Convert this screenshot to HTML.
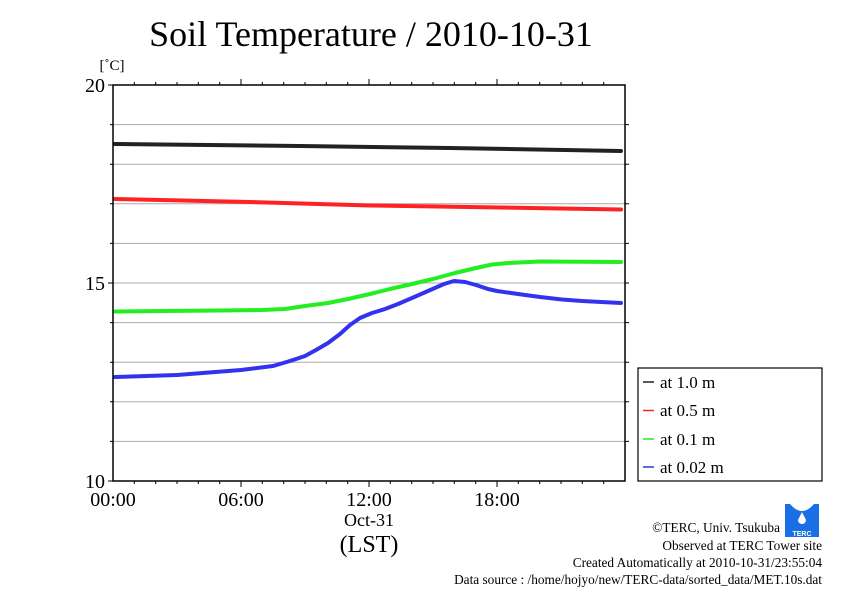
<!DOCTYPE html>
<html><head><meta charset="utf-8"><style>body{margin:0;background:#fff}svg{display:block}</style></head><body>
<svg width="842" height="595" viewBox="0 0 842 595" font-family="Liberation Serif, serif">
<rect width="842" height="595" fill="#fff"/>
<text x="371" y="46" font-size="36" text-anchor="middle">Soil Temperature / 2010-10-31</text>
<text x="112" y="70" font-size="15" text-anchor="middle">[˚C]</text>
<g stroke="#aaa" stroke-width="1">
<line x1="113" x2="625" y1="124.6" y2="124.6"/><line x1="113" x2="625" y1="164.2" y2="164.2"/>
<line x1="113" x2="625" y1="203.8" y2="203.8"/><line x1="113" x2="625" y1="243.4" y2="243.4"/>
<line x1="113" x2="625" y1="283" y2="283"/><line x1="113" x2="625" y1="322.6" y2="322.6"/>
<line x1="113" x2="625" y1="362.2" y2="362.2"/><line x1="113" x2="625" y1="401.8" y2="401.8"/>
<line x1="113" x2="625" y1="441.4" y2="441.4"/>
</g>
<g fill="none" stroke-width="4" stroke-linejoin="round" stroke-linecap="round">
<polyline stroke="#222" points="115,144 300,146 450,148 621,151"/>
<polyline stroke="#f22" points="115,199 250,202 370,205.5 500,207.5 621,209.5"/>
<polyline stroke="#2e2" points="115,311.5 262,310 285,309 305,306 328,303 348,299 370,294 390,289 412,284 433,279 455,273 476,268 492,264.5 508,263 540,261.5 621,262"/>
<polyline stroke="#33e" points="115,377 177,375 241,370 273,366 290,361 305,356 316,350 328,343 340,334 350,325 360,318 372,313 385,309 398,304 412,298 428,291 444,284 454,281 465,282 476,285 488,289 497,291 518,294 540,297 562,299.5 582,301 621,303"/>
</g>
<rect x="113" y="85" width="512" height="396" fill="none" stroke="#000" stroke-width="1.5"/>
<g stroke="#000" stroke-width="1">
<path d="M134.3,85v-3M155.7,85v-3M177,85v-3M198.3,85v-3M219.7,85v-3M241,85v-6M262.3,85v-3M283.7,85v-3M305,85v-3M326.3,85v-3M347.7,85v-3M369,85v-6M390.3,85v-3M411.7,85v-3M433,85v-3M454.3,85v-3M475.7,85v-3M497,85v-6M518.3,85v-3M539.7,85v-3M561,85v-3M582.3,85v-3M603.7,85v-3"/>
<path d="M134.3,481v3M155.7,481v3M177,481v3M198.3,481v3M219.7,481v3M241,481v6M262.3,481v3M283.7,481v3M305,481v3M326.3,481v3M347.7,481v3M369,481v6M390.3,481v3M411.7,481v3M433,481v3M454.3,481v3M475.7,481v3M497,481v6M518.3,481v3M539.7,481v3M561,481v3M582.3,481v3M603.7,481v3"/>
<path d="M113,85h-5M113,124.6h-3M113,164.2h-3M113,203.8h-3M113,243.4h-3M113,283h-5M113,322.6h-3M113,362.2h-3M113,401.8h-3M113,441.4h-3M113,481h-5"/>
<path d="M625,124.6h4M625,164.2h4M625,203.8h4M625,243.4h4M625,283h4M625,322.6h4M625,362.2h4M625,401.8h4M625,441.4h4"/>
</g>
<g font-size="20" text-anchor="end"><text x="105" y="92">20</text><text x="105" y="290">15</text><text x="105" y="488">10</text></g>
<g font-size="20" text-anchor="middle"><text x="113" y="506">00:00</text><text x="241" y="506">06:00</text><text x="369" y="506">12:00</text><text x="497" y="506">18:00</text>
<text x="369" y="526" font-size="18">Oct-31</text><text x="369" y="552" font-size="24">(LST)</text></g>
<rect x="638" y="368" width="184" height="113" fill="#fff" stroke="#000" stroke-width="1.2"/>
<g stroke-width="1.5"><line x1="643" x2="654" y1="382" y2="382" stroke="#222"/><line x1="643" x2="654" y1="410.5" y2="410.5" stroke="#f22"/><line x1="643" x2="654" y1="439" y2="439" stroke="#2e2"/><line x1="643" x2="654" y1="467" y2="467" stroke="#33e"/></g>
<g font-size="17"><text x="660" y="388">at 1.0 m</text><text x="660" y="416">at 0.5 m</text><text x="660" y="445">at 0.1 m</text><text x="660" y="473">at 0.02 m</text></g>
<rect x="785" y="504" width="34" height="33" fill="#1a6ee6"/>
<path d="M790,504 q12,14 24,0" fill="#fff"/>
<path d="M802,512 l-4,8 a4,4 0 0 0 8,0z" fill="#fff"/>
<text x="802" y="536" font-size="7" fill="#fff" text-anchor="middle" font-family="Liberation Sans, sans-serif" font-weight="bold">TERC</text>
<g font-size="13.3" text-anchor="end"><text x="780" y="532">©TERC, Univ. Tsukuba</text><text x="822" y="550">Observed at TERC Tower site</text>
<text x="822" y="567">Created Automatically at 2010-10-31/23:55:04</text><text x="822" y="584">Data source : /home/hojyo/new/TERC-data/sorted_data/MET.10s.dat</text></g>
</svg>
</body></html>
